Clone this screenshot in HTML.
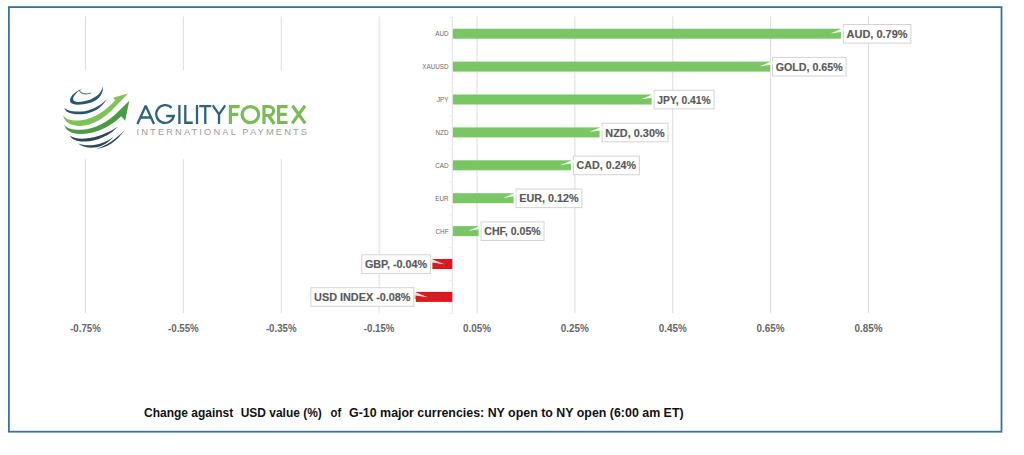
<!DOCTYPE html>
<html><head><meta charset="utf-8"><style>
html,body{margin:0;padding:0;background:#fff;width:1024px;height:455px;overflow:hidden}
svg{position:absolute;left:0;top:0;font-family:"Liberation Sans",sans-serif}
</style></head><body>
<svg width="1024" height="455" viewBox="0 0 1024 455">
<line x1="85.50" y1="16.5" x2="85.50" y2="313" stroke="#dddddd" stroke-width="1"/>
<line x1="183.38" y1="16.5" x2="183.38" y2="313" stroke="#dddddd" stroke-width="1"/>
<line x1="281.25" y1="16.5" x2="281.25" y2="313" stroke="#dddddd" stroke-width="1"/>
<line x1="379.12" y1="16.5" x2="379.12" y2="313" stroke="#dddddd" stroke-width="1"/>
<line x1="477.00" y1="16.5" x2="477.00" y2="313" stroke="#dddddd" stroke-width="1"/>
<line x1="574.88" y1="16.5" x2="574.88" y2="313" stroke="#dddddd" stroke-width="1"/>
<line x1="672.75" y1="16.5" x2="672.75" y2="313" stroke="#dddddd" stroke-width="1"/>
<line x1="770.62" y1="16.5" x2="770.62" y2="313" stroke="#dddddd" stroke-width="1"/>
<line x1="868.50" y1="16.5" x2="868.50" y2="313" stroke="#dddddd" stroke-width="1"/>
<line x1="452.3" y1="16.5" x2="452.3" y2="313.6" stroke="#e2e2ea" stroke-width="1"/>
<line x1="449" y1="17.35" x2="452.3" y2="17.35" stroke="#ececf2" stroke-width="1"/>
<line x1="449" y1="50.25" x2="452.3" y2="50.25" stroke="#ececf2" stroke-width="1"/>
<line x1="449" y1="83.15" x2="452.3" y2="83.15" stroke="#ececf2" stroke-width="1"/>
<line x1="449" y1="116.05" x2="452.3" y2="116.05" stroke="#ececf2" stroke-width="1"/>
<line x1="449" y1="148.95" x2="452.3" y2="148.95" stroke="#ececf2" stroke-width="1"/>
<line x1="449" y1="181.85" x2="452.3" y2="181.85" stroke="#ececf2" stroke-width="1"/>
<line x1="449" y1="214.75" x2="452.3" y2="214.75" stroke="#ececf2" stroke-width="1"/>
<line x1="449" y1="247.65" x2="452.3" y2="247.65" stroke="#ececf2" stroke-width="1"/>
<line x1="449" y1="280.55" x2="452.3" y2="280.55" stroke="#ececf2" stroke-width="1"/>
<line x1="449" y1="313.45" x2="452.3" y2="313.45" stroke="#ececf2" stroke-width="1"/>
<text x="70.15" y="332.4" font-size="10.9" font-weight="bold" fill="#666666" textLength="30.7" lengthAdjust="spacingAndGlyphs">-0.75%</text>
<text x="168.03" y="332.4" font-size="10.9" font-weight="bold" fill="#666666" textLength="30.7" lengthAdjust="spacingAndGlyphs">-0.55%</text>
<text x="265.90" y="332.4" font-size="10.9" font-weight="bold" fill="#666666" textLength="30.7" lengthAdjust="spacingAndGlyphs">-0.35%</text>
<text x="363.77" y="332.4" font-size="10.9" font-weight="bold" fill="#666666" textLength="30.7" lengthAdjust="spacingAndGlyphs">-0.15%</text>
<text x="462.95" y="332.4" font-size="10.9" font-weight="bold" fill="#666666" textLength="28.1" lengthAdjust="spacingAndGlyphs">0.05%</text>
<text x="560.83" y="332.4" font-size="10.9" font-weight="bold" fill="#666666" textLength="28.1" lengthAdjust="spacingAndGlyphs">0.25%</text>
<text x="658.70" y="332.4" font-size="10.9" font-weight="bold" fill="#666666" textLength="28.1" lengthAdjust="spacingAndGlyphs">0.45%</text>
<text x="756.58" y="332.4" font-size="10.9" font-weight="bold" fill="#666666" textLength="28.1" lengthAdjust="spacingAndGlyphs">0.65%</text>
<text x="854.45" y="332.4" font-size="10.9" font-weight="bold" fill="#666666" textLength="28.1" lengthAdjust="spacingAndGlyphs">0.85%</text>
<rect x="452.90" y="28.70" width="388.00" height="10" fill="#7ac665"/>
<text x="448.5" y="36.10" text-anchor="end" font-size="6.3" fill="#6a6a6a">AUD</text>
<rect x="843.40" y="24.50" width="67.50" height="18.60" fill="#fff" stroke="#d3d3d3" stroke-width="1"/>
<polygon points="843.90,27.80 830.40,33.40 843.90,31.60" fill="#f4fbf2"/>
<text x="846.60" y="37.80" font-size="10.8" font-weight="bold" fill="#595959" stroke="#595959" stroke-width="0.15" textLength="61.0" lengthAdjust="spacingAndGlyphs">AUD, 0.79%</text>
<rect x="452.90" y="61.60" width="317.10" height="10" fill="#7ac665"/>
<text x="448.5" y="69.00" text-anchor="end" font-size="6.3" fill="#6a6a6a">XAUUSD</text>
<rect x="772.50" y="57.40" width="73.50" height="18.60" fill="#fff" stroke="#d3d3d3" stroke-width="1"/>
<polygon points="773.00,60.70 759.50,66.30 773.00,64.50" fill="#f4fbf2"/>
<text x="775.70" y="70.70" font-size="10.8" font-weight="bold" fill="#595959" stroke="#595959" stroke-width="0.15" textLength="67.0" lengthAdjust="spacingAndGlyphs">GOLD, 0.65%</text>
<rect x="452.90" y="94.50" width="198.70" height="10" fill="#7ac665"/>
<text x="448.5" y="101.90" text-anchor="end" font-size="6.3" fill="#6a6a6a">JPY</text>
<rect x="654.10" y="90.30" width="60.00" height="18.60" fill="#fff" stroke="#d3d3d3" stroke-width="1"/>
<polygon points="654.60,93.60 641.10,99.20 654.60,97.40" fill="#f4fbf2"/>
<text x="657.30" y="103.60" font-size="10.8" font-weight="bold" fill="#595959" stroke="#595959" stroke-width="0.15" textLength="53.5" lengthAdjust="spacingAndGlyphs">JPY, 0.41%</text>
<rect x="452.90" y="127.40" width="146.70" height="10" fill="#7ac665"/>
<text x="448.5" y="134.80" text-anchor="end" font-size="6.3" fill="#6a6a6a">NZD</text>
<rect x="602.10" y="123.20" width="65.90" height="18.60" fill="#fff" stroke="#d3d3d3" stroke-width="1"/>
<polygon points="602.60,126.50 589.10,132.10 602.60,130.30" fill="#f4fbf2"/>
<text x="605.30" y="136.50" font-size="10.8" font-weight="bold" fill="#595959" stroke="#595959" stroke-width="0.15" textLength="59.4" lengthAdjust="spacingAndGlyphs">NZD, 0.30%</text>
<rect x="452.90" y="160.30" width="118.00" height="10" fill="#7ac665"/>
<text x="448.5" y="167.70" text-anchor="end" font-size="6.3" fill="#6a6a6a">CAD</text>
<rect x="573.40" y="156.10" width="66.00" height="18.60" fill="#fff" stroke="#d3d3d3" stroke-width="1"/>
<polygon points="573.90,159.40 560.40,165.00 573.90,163.20" fill="#f4fbf2"/>
<text x="576.60" y="169.40" font-size="10.8" font-weight="bold" fill="#595959" stroke="#595959" stroke-width="0.15" textLength="59.5" lengthAdjust="spacingAndGlyphs">CAD, 0.24%</text>
<rect x="452.90" y="193.20" width="60.70" height="10" fill="#7ac665"/>
<text x="448.5" y="200.60" text-anchor="end" font-size="6.3" fill="#6a6a6a">EUR</text>
<rect x="516.10" y="189.00" width="65.80" height="18.60" fill="#fff" stroke="#d3d3d3" stroke-width="1"/>
<polygon points="516.60,192.30 503.10,197.90 516.60,196.10" fill="#f4fbf2"/>
<text x="519.30" y="202.30" font-size="10.8" font-weight="bold" fill="#595959" stroke="#595959" stroke-width="0.15" textLength="59.3" lengthAdjust="spacingAndGlyphs">EUR, 0.12%</text>
<rect x="452.90" y="226.10" width="25.70" height="10" fill="#7ac665"/>
<text x="448.5" y="233.50" text-anchor="end" font-size="6.3" fill="#6a6a6a">CHF</text>
<rect x="481.10" y="221.90" width="62.90" height="18.60" fill="#fff" stroke="#d3d3d3" stroke-width="1"/>
<polygon points="481.60,225.20 468.10,230.80 481.60,229.00" fill="#f4fbf2"/>
<text x="484.30" y="235.20" font-size="10.8" font-weight="bold" fill="#595959" stroke="#595959" stroke-width="0.15" textLength="56.4" lengthAdjust="spacingAndGlyphs">CHF, 0.05%</text>
<rect x="432.40" y="259.00" width="19.90" height="10" fill="#e5141b"/>
<text x="448.5" y="266.40" text-anchor="end" font-size="6.3" fill="#a83a3a">GBP</text>
<rect x="361.70" y="254.80" width="68.70" height="18.60" fill="#fff" stroke="#d3d3d3" stroke-width="1"/>
<polygon points="430.40,258.60 444.40,264.30 430.40,262.30" fill="#f6e2e2"/>
<text x="364.90" y="268.10" font-size="10.8" font-weight="bold" fill="#595959" stroke="#595959" stroke-width="0.15" textLength="62.2" lengthAdjust="spacingAndGlyphs">GBP, -0.04%</text>
<rect x="415.80" y="291.90" width="36.50" height="10" fill="#e5141b"/>
<text x="448.5" y="299.30" text-anchor="end" font-size="6.3" fill="#a83a3a">USD INDEX</text>
<rect x="310.90" y="287.70" width="102.90" height="18.60" fill="#fff" stroke="#d3d3d3" stroke-width="1"/>
<polygon points="413.80,291.50 427.80,297.20 413.80,295.20" fill="#f6e2e2"/>
<text x="314.10" y="301.00" font-size="10.8" font-weight="bold" fill="#595959" stroke="#595959" stroke-width="0.15" textLength="96.4" lengthAdjust="spacingAndGlyphs">USD INDEX -0.08%</text>
<text x="144" y="416.8" font-size="12.4" font-weight="bold" fill="#111" textLength="89.2" lengthAdjust="spacingAndGlyphs">Change against</text>
<text x="240.7" y="416.8" font-size="12.4" font-weight="bold" fill="#111" textLength="81.1" lengthAdjust="spacingAndGlyphs">USD value (%)</text>
<text x="330.6" y="416.8" font-size="12.4" font-weight="bold" fill="#111" textLength="10.7" lengthAdjust="spacingAndGlyphs">of</text>
<text x="349.1" y="416.8" font-size="12.4" font-weight="bold" fill="#111" textLength="334.5" lengthAdjust="spacingAndGlyphs">G-10 major currencies: NY open to NY open (6:00 am ET)</text>
<rect x="8.9" y="7.1" width="992.6" height="424.6" fill="none" stroke="#3474a0" stroke-width="1.8"/>

<rect x="40" y="70.5" width="290" height="88.7" fill="#fff"/>
<path d="M79.5,90.5 Q81.5,95.3 90.5,93.2" fill="none" stroke="#5d7f92" stroke-width="1.1" stroke-linecap="round"/>
<path d="M83,88.2 C73.5,92 68.5,98 70.5,102.3 C72.5,106.2 84,104.8 92,102.2 C99.5,99.5 103.5,93 103,86.3 C101.5,92.5 97,96.8 90.5,99.5 C83,102.2 75.5,102.8 73.6,100.6 C71.8,97.5 76,92 83,88.2 Z" fill="#2a5670"/>
<path d="M64.3,107.8 C65.5,112.8 72,115.2 84.7,114 C93.5,112.8 101.5,108 106.8,99.3 C100,105.8 93,109.8 84.7,111.2 C74,112.3 67,111 64.3,107.8 Z" fill="#2a5670"/>
<path d="M63.2,115 C63.8,121.5 70,125.8 79.8,126 C92.5,126 105.5,117.5 114.5,107.5 L128,93.5 L113,97.8 L115.3,100.3 C106,110.5 94,119 81,120.3 C70,121.5 64.5,118.5 63.2,115 Z" fill="#7fc25a"/>
<path d="M64,124.3 C66.5,128.8 73,130.2 82,129.8 C95,129 108,122 118,111.8 L129.3,100.8 L125.2,120.8 L121.2,116.2 C110,127.2 96,133.5 82,134 C71.5,134.5 65.5,130.5 64,124.3 Z" fill="#4e9a45"/>
<path d="M69.8,135.6 C72,140 77.5,141.8 85,141.6 C97.5,141.2 110.5,135 118,126.5 C109,132.8 97,137.6 85,138.6 C78,139 72.5,138 69.8,135.6 Z" fill="#2c4558"/>
<path d="M77.8,143.2 C81.5,146.5 87.5,148 94,147.6 C102.5,147 108.5,142.2 113.5,137 C107,141.3 101,144.2 94,145 C88,145.5 82,145.2 77.8,143.2 Z" fill="#2c4558"/>
<path d="M96.5,148.8 C106,148.2 116.5,142 124.6,130 C115.5,139.5 106.5,145.5 96.5,148.8 Z" fill="#2c4558"/>
<g fill="none" stroke="#2f6379" stroke-width="2.3" stroke-linejoin="miter">
 <path d="M137.4,123.9 L145.7,105.8 L154,123.9 M140.4,117.5 L151,117.5" stroke-linejoin="bevel"/>
 <path d="M171.6,107.9 A8.9,8.9 0 1 0 173.8,116 L166.2,116"/>
 <path d="M179.4,104.9 V123.9 M185.3,104.9 V122.75 H192.8 M197,104.9 V123.9 M199.3,106.05 H211.3 M205.3,106.05 V123.9"/>
 <path d="M212.8,105.4 L219,114.3 L225.2,105.4 M219,114.3 V123.9" stroke-linejoin="bevel"/>
</g>
<g fill="none" stroke="#7aba57" stroke-width="3.2">
 <path d="M239.6,106.7 H230.4 V124 M230.4,114.4 H238.2"/>
 <ellipse cx="250.4" cy="114.6" rx="8.3" ry="8"/>
 <path d="M264,124 V106.7 H269.2 A4.4,4.4 0 0 1 269.2,115.5 H264 M268.5,115.5 L274.4,124"/>
 <path d="M287.6,106.7 H278.6 V122.5 H287.6 M278.6,114.4 H286.6"/>
 <path d="M292.4,105.8 L305.2,123.4 M305,105.8 L292.2,123.4"/>
</g>
<text x="136.5" y="135" font-size="9.3" fill="#9c9c9c" textLength="170.5" lengthAdjust="spacing">INTERNATIONAL PAYMENTS</text>

</svg>
</body></html>
